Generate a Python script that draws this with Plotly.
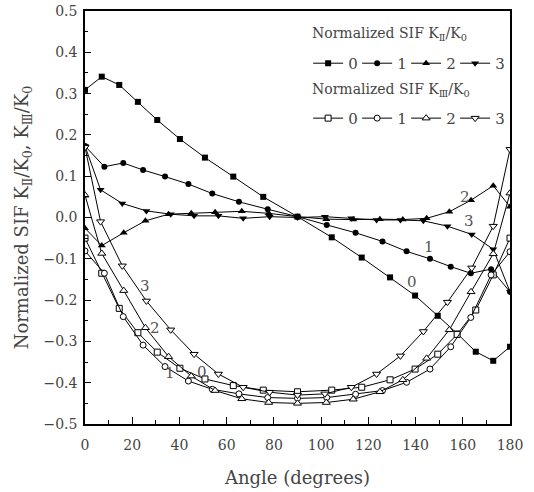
import plotly.graph_objects as go

# Angles (degrees) at which each case was evaluated
angle_0 = [0, 7.1, 14.5, 22.4, 30.6, 40.2, 50.8, 62.8, 75.5, 90, 104.5, 117.2, 129.2, 139.8, 149.4, 157.6, 165.5, 172.9, 180]
angle_1 = [0, 8.2, 16.2, 24.6, 33.9, 43.8, 53.9, 65.2, 77.4, 90, 102.4, 114.6, 126, 136.2, 146.1, 154.9, 163.4, 172, 180]
angle_2 = [0, 7.1, 16.4, 25.6, 35.4, 45, 55.1, 66.4, 77.8, 90, 102.2, 113.6, 124.9, 134.6, 144.7, 154.3, 163.5, 172.9, 180]
angle_3 = [0, 6.6, 15.8, 26, 36.3, 46.2, 56.5, 67, 78.2, 90, 101.6, 112.8, 123.5, 133.6, 143.3, 153.5, 163.8, 172.9, 180]

# Normalized SIF K_II / K_0
kii_0 = [0.309, 0.341, 0.321, 0.280, 0.236, 0.190, 0.145, 0.099, 0.050, 0.002, -0.048, -0.097, -0.145, -0.189, -0.238, -0.281, -0.325, -0.347, -0.313]
kii_1 = [0.173, 0.123, 0.132, 0.115, 0.099, 0.081, 0.058, 0.038, 0.020, 0.002, -0.018, -0.037, -0.058, -0.082, -0.100, -0.119, -0.135, -0.125, -0.180]
kii_2 = [-0.026, -0.068, -0.037, -0.008, 0.008, 0.010, 0.013, 0.015, 0.010, 0.002, -0.004, -0.005, -0.004, -0.005, -0.002, 0.014, 0.042, 0.077, 0.026]
kii_3 = [0.173, 0.067, 0.034, 0.016, 0.008, 0.004, 0.004, -0.002, 0.002, 0.000, 0.002, -0.002, -0.006, -0.006, -0.008, -0.021, -0.041, -0.077, -0.180]

# Normalized SIF K_III / K_0
kiii_0 = [-0.050, -0.135, -0.220, -0.279, -0.326, -0.365, -0.391, -0.407, -0.418, -0.422, -0.418, -0.411, -0.393, -0.367, -0.331, -0.283, -0.224, -0.139, -0.050]
kiii_1 = [-0.081, -0.135, -0.240, -0.309, -0.361, -0.396, -0.416, -0.427, -0.436, -0.438, -0.436, -0.428, -0.419, -0.399, -0.367, -0.313, -0.242, -0.139, -0.083]
kiii_2 = [0.054, -0.087, -0.177, -0.267, -0.337, -0.384, -0.419, -0.439, -0.448, -0.450, -0.448, -0.440, -0.422, -0.393, -0.341, -0.272, -0.180, -0.088, 0.059]
kiii_3 = [0.170, -0.010, -0.117, -0.202, -0.272, -0.331, -0.379, -0.411, -0.423, -0.430, -0.427, -0.411, -0.379, -0.335, -0.276, -0.205, -0.122, -0.021, 0.165]

case_names = ["0", "1", "2", "3"]
symbols = ["square", "circle", "triangle-up", "triangle-down"]
sizes = [6, 6, 7, 7]

legend_titles = ["Normalized SIF K<sub>Ⅱ</sub>/K<sub>0</sub>", "Normalized SIF K<sub>Ⅲ</sub>/K<sub>0</sub>"]

# Curve labels (case name, angle, value)
label_kiii = [("3", 25.4, -0.166), ("2", 29.6, -0.268), ("1", 36.0, -0.377), ("0", 49.4, -0.373)]
label_kii = [("2", 161.0, 0.050), ("3", 162.8, -0.008), ("1", 145.7, -0.072), ("0", 138.4, -0.155)]

FONT = "DejaVu Serif"
TXT = "#444444"

angles = [angle_0, angle_1, angle_2, angle_3]
kii = [kii_0, kii_1, kii_2, kii_3]
kiii = [kiii_0, kiii_1, kiii_2, kiii_3]

fig = go.Figure()
for i in range(4):
    fig.add_trace(go.Scatter(
        x=angles[i], y=kii[i], mode="lines+markers", name=case_names[i],
        line=dict(color="black", width=1),
        marker=dict(symbol=symbols[i], size=sizes[i], color="black"),
        legend="legend",
    ))
for i in range(4):
    fig.add_trace(go.Scatter(
        x=angles[i], y=kiii[i], mode="lines+markers", name=case_names[i],
        line=dict(color="black", width=1),
        marker=dict(symbol=symbols[i], size=sizes[i], color="white",
                    line=dict(color="black", width=1)),
        legend="legend2",
    ))

for txt, xa, ya in label_kiii + label_kii:
    fig.add_annotation(x=xa, y=ya, text=txt, showarrow=False,
                       font=dict(family=FONT, size=15, color="#555555"))

# legend headings
fig.add_annotation(xref="paper", yref="paper", x=0.53, y=0.945, xanchor="left", yanchor="middle",
                   text=legend_titles[0], showarrow=False, font=dict(family=FONT, size=14, color=TXT))
fig.add_annotation(xref="paper", yref="paper", x=0.53, y=0.808, xanchor="left", yanchor="middle",
                   text=legend_titles[1], showarrow=False, font=dict(family=FONT, size=14, color=TXT))

legend_common = dict(
    orientation="h", xanchor="left", yanchor="middle",
    bgcolor="rgba(0,0,0,0)", font=dict(family=FONT, size=15, color=TXT),
    itemwidth=30, entrywidth=4, entrywidthmode="pixels", tracegroupgap=0,
)

fig.update_layout(
    width=534, height=492,
    margin=dict(l=85, r=24, t=11, b=68, autoexpand=False),
    plot_bgcolor="white", paper_bgcolor="white",
    font=dict(family=FONT, size=14, color=TXT),
    showlegend=True,
    legend=dict(x=0.525, y=0.873, **legend_common),
    legend2=dict(x=0.525, y=0.740, **legend_common),
    xaxis=dict(
        range=[0, 180], dtick=20, tick0=0, showgrid=False, zeroline=False,
        ticks="inside", ticklen=7, tickwidth=1, tickcolor="black",
        minor=dict(dtick=10, ticks="inside", ticklen=4, tickcolor="black", showgrid=False),
        showline=True, linecolor="black", linewidth=1.5, mirror=True,
        tickfont=dict(family=FONT, size=14, color=TXT), ticklabelstandoff=7,
        title=dict(text="Angle (degrees)", font=dict(family=FONT, size=18, color=TXT), standoff=20),
    ),
    yaxis=dict(
        range=[-0.5, 0.5], dtick=0.1, tick0=0, tickformat=".1f", showgrid=False, zeroline=False,
        ticks="inside", ticklen=6, tickwidth=1, tickcolor="black",
        minor=dict(dtick=0.05, ticks="inside", ticklen=3, tickcolor="black", showgrid=False),
        showline=True, linecolor="black", linewidth=1.5, mirror=True,
        tickfont=dict(family=FONT, size=14, color=TXT), ticklabelstandoff=3,
        title=dict(text="Normalized SIF K<sub>Ⅱ</sub>/K<sub>0</sub>, K<sub>Ⅲ</sub>/K<sub>0</sub>",
                   font=dict(family=FONT, size=18, color=TXT), standoff=10),
    ),
)

# remove the browser's default 8px body margin so the figure sits at the page corner
fig.write_html("out.html", config={"displayModeBar": False},
               post_script="document.body.style.margin='0';")
